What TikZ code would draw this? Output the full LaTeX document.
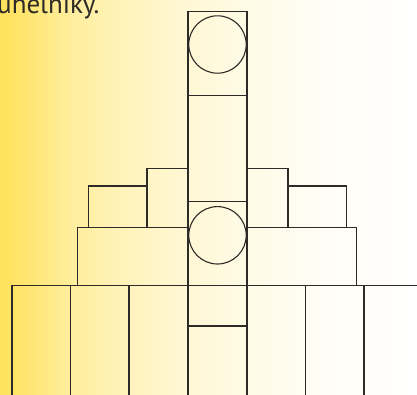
\documentclass[tikz,border=0pt]{standalone}
\usepackage{fontspec}
\setmainfont{PT Sans}
\definecolor{warm}{RGB}{255,226,92}
\definecolor{edge}{RGB}{45,42,40}
% visible band of a shaded path is 25bp--75bp
\pgfdeclarehorizontalshading{sunfade}{100bp}{
  color(0bp)=(warm);
  color(25bp)=(warm);
  color(26.5bp)=(warm!95!white);
  color(33.5bp)=(warm!60!white);
  color(40.5bp)=(warm!40!white);
  color(48bp)=(warm!25!white);
  color(55bp)=(warm!15!white);
  color(62bp)=(warm!7!white);
  color(69.5bp)=(warm!3!white);
  color(75bp)=(white);
  color(100bp)=(white)}
\tikzset{
  block/.style={draw=edge,line width=1.1pt},
  ring/.style={draw=edge,line width=1.1pt}
}
\begin{document}
\begin{tikzpicture}[x=1pt,y=-1pt]
\useasboundingbox (0,0) rectangle (417,394);
\clip (0,0) rectangle (417,394);
\shade[shading=sunfade] (0,0) rectangle (417,394);

\node[anchor=base west,inner sep=0pt,text=edge,font=\fontsize{27}{30}\selectfont] (title) at (-3,13.5) {uhelníky.};

% bottom row
\draw[block] (12,400) -- (12,285.7) -- (420,285.7);
\foreach \x in {70.3,129,188,247,305.7,364}
  \draw[block] (\x,285.7) -- (\x,400);
\draw[block] (188,326) -- (247,326);

% middle row
\draw[block] (77.7,227.3) rectangle (188,285.7);
\draw[block] (247,227.3) rectangle (356.7,285.7);
\draw[block] (88.3,186) rectangle (147,227.3);
\draw[block] (147,168.7) rectangle (188,227.3);
\draw[block] (247,168.7) rectangle (288,227.3);
\draw[block] (288,186) rectangle (346.7,227.3);

% centre column
\draw[block] (188,11.7) rectangle (247,95.7);
\draw[block] (188,95.7) rectangle (247,201.7);
\draw[block] (188,201.7) rectangle (247,285.7);
\draw[ring] (217.5,44.5) circle (28.7pt);
\draw[ring] (217.5,235.3) circle (28.7pt);
\end{tikzpicture}
\end{document}
